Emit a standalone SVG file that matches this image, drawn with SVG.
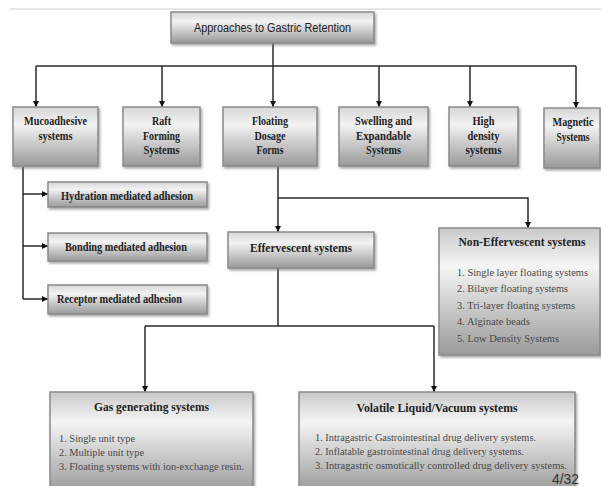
<svg xmlns="http://www.w3.org/2000/svg" width="601" height="486" viewBox="0 0 601 486">
<style>
.box{fill:url(#g);stroke:#8a8a8a;stroke-width:1.5;filter:url(#sh)}
.big{fill:url(#g2);stroke:#8a8a8a;stroke-width:1.5;filter:url(#sh)}
.t{font-family:"Liberation Serif","Times New Roman",serif;font-weight:bold;font-size:12.5px;fill:#222;text-anchor:middle}
.h{font-family:"Liberation Serif","Times New Roman",serif;font-weight:bold;font-size:13px;fill:#222;text-anchor:middle}
.i{font-family:"Liberation Serif","Times New Roman",serif;font-size:11px;fill:#4a4a4a}
.c{fill:none;stroke:#2a2a2a;stroke-width:1.5}
</style>
<defs>
<linearGradient id="g" x1="0" y1="0" x2="0" y2="1">
<stop offset="0" stop-color="#d6d6d6"/><stop offset="0.3" stop-color="#f3f3f3"/><stop offset="1" stop-color="#999"/>
</linearGradient>
<linearGradient id="g2" x1="0" y1="0" x2="0" y2="1">
<stop offset="0" stop-color="#c9c9c9"/><stop offset="0.3" stop-color="#f5f5f5"/><stop offset="1" stop-color="#9a9a9a"/>
</linearGradient>
<filter id="sh" x="-10%" y="-10%" width="130%" height="130%">
<feDropShadow dx="1.5" dy="2" stdDeviation="1.2" flood-color="#777" flood-opacity="0.6"/>
</filter>
<marker id="a" viewBox="0 0 10 10" refX="10" refY="5" markerWidth="6" markerHeight="6" orient="auto" markerUnits="userSpaceOnUse">
<path d="M0,0 L10,5 L0,10 z" fill="#111"/>
</marker>
</defs>
<rect width="601" height="486" fill="#fff"/>
<line x1="10" y1="9" x2="601" y2="9" stroke="#cfcfcf" stroke-width="1"/>

<g id="connectors">
<path class="c" d="M273,43 V66"/>
<path class="c" d="M36,66 H576"/>
<path class="c" d="M36,66 V107" marker-end="url(#a)"/>
<path class="c" d="M162,66 V107" marker-end="url(#a)"/>
<path class="c" d="M273,66 V107" marker-end="url(#a)"/>
<path class="c" d="M379,66 V107" marker-end="url(#a)"/>
<path class="c" d="M470,66 V107" marker-end="url(#a)"/>
<path class="c" d="M576,66 V108" marker-end="url(#a)"/>
<path class="c" d="M23,167 V299"/>
<path class="c" d="M23,194 H48" marker-end="url(#a)"/>
<path class="c" d="M23,246 H48" marker-end="url(#a)"/>
<path class="c" d="M23,299 H48" marker-end="url(#a)"/>
<path class="c" d="M278,166 V232" marker-end="url(#a)"/>
<path class="c" d="M278,198 H528 V228" marker-end="url(#a)"/>
<path class="c" d="M278,268 V326"/>
<path class="c" d="M145,326 H434"/>
<path class="c" d="M145,326 V392" marker-end="url(#a)"/>
<path class="c" d="M434,326 V392" marker-end="url(#a)"/>
</g>

<g id="root">
<rect class="box" x="171" y="12" width="203" height="31"/>
<text x="272.5" y="32" style="font-family:'Liberation Sans',Arial,sans-serif;font-size:12.5px;fill:#222;text-anchor:middle" textLength="157" lengthAdjust="spacingAndGlyphs">Approaches to Gastric Retention</text>
</g>

<g id="mucoadhesive">
<rect class="box" x="13" y="107" width="85" height="59"/>
<text class="t" x="55.5" y="125" textLength="63" lengthAdjust="spacingAndGlyphs">Mucoadhesive</text>
<text class="t" x="55.5" y="140" textLength="34" lengthAdjust="spacingAndGlyphs">systems</text>
</g>
<g id="raft">
<rect class="box" x="123" y="107" width="77" height="59"/>
<text class="t" x="161.5" y="125" textLength="19" lengthAdjust="spacingAndGlyphs">Raft</text>
<text class="t" x="161.5" y="140" textLength="37" lengthAdjust="spacingAndGlyphs">Forming</text>
<text class="t" x="161.5" y="154" textLength="36" lengthAdjust="spacingAndGlyphs">Systems</text>
</g>
<g id="floating">
<rect class="box" x="223" y="107" width="94" height="59"/>
<text class="t" x="270" y="125" textLength="36" lengthAdjust="spacingAndGlyphs">Floating</text>
<text class="t" x="270" y="140" textLength="31" lengthAdjust="spacingAndGlyphs">Dosage</text>
<text class="t" x="270" y="154" textLength="27" lengthAdjust="spacingAndGlyphs">Forms</text>
</g>
<g id="swelling">
<rect class="box" x="339" y="107" width="89" height="59"/>
<text class="t" x="383.5" y="125" textLength="57" lengthAdjust="spacingAndGlyphs">Swelling and</text>
<text class="t" x="383.5" y="140" textLength="55" lengthAdjust="spacingAndGlyphs">Expandable</text>
<text class="t" x="383.5" y="154" textLength="35" lengthAdjust="spacingAndGlyphs">Systems</text>
</g>
<g id="highdensity">
<rect class="box" x="449" y="107" width="69" height="59"/>
<text class="t" x="483.5" y="125" textLength="22" lengthAdjust="spacingAndGlyphs">High</text>
<text class="t" x="483.5" y="140" textLength="32" lengthAdjust="spacingAndGlyphs">density</text>
<text class="t" x="483.5" y="154" textLength="36" lengthAdjust="spacingAndGlyphs">systems</text>
</g>
<g id="magnetic">
<rect class="box" x="544" y="108" width="56" height="60"/>
<text class="t" x="573" y="126" textLength="41" lengthAdjust="spacingAndGlyphs">Magnetic</text>
<text class="t" x="573" y="141" textLength="33" lengthAdjust="spacingAndGlyphs">Systems</text>
</g>

<g id="hydration">
<rect class="box" x="48" y="182" width="159" height="25"/>
<text class="t" x="127" y="200" textLength="132" lengthAdjust="spacingAndGlyphs">Hydration mediated adhesion</text>
</g>
<g id="bonding">
<rect class="box" x="48" y="233" width="159" height="28"/>
<text class="t" x="126" y="251" textLength="122" lengthAdjust="spacingAndGlyphs">Bonding mediated adhesion</text>
</g>
<g id="receptor">
<rect class="box" x="48" y="285" width="159" height="29"/>
<text class="t" x="119.5" y="303" textLength="125" lengthAdjust="spacingAndGlyphs">Receptor mediated adhesion</text>
</g>

<g id="effervescent">
<rect class="box" x="228" y="232" width="146" height="36"/>
<text class="h" x="301" y="252" textLength="102" lengthAdjust="spacingAndGlyphs">Effervescent systems</text>
</g>

<g id="noneffervescent">
<rect class="big" x="439" y="228" width="161" height="127"/>
<text class="h" x="522" y="246" textLength="127" lengthAdjust="spacingAndGlyphs">Non-Effervescent systems</text>
<text class="i" x="457" y="276" textLength="131" lengthAdjust="spacingAndGlyphs">1. Single layer floating systems</text>
<text class="i" x="457" y="292" textLength="111" lengthAdjust="spacingAndGlyphs">2. Bilayer floating systems</text>
<text class="i" x="457" y="309" textLength="118" lengthAdjust="spacingAndGlyphs">3. Tri-layer floating systems</text>
<text class="i" x="457" y="325" textLength="73" lengthAdjust="spacingAndGlyphs">4. Alginate beads</text>
<text class="i" x="457" y="342" textLength="102" lengthAdjust="spacingAndGlyphs">5. Low Density Systems</text>
</g>

<g id="gasgenerating">
<rect class="big" x="50" y="392" width="203" height="100"/>
<text class="h" x="151.5" y="411" textLength="115" lengthAdjust="spacingAndGlyphs">Gas generating systems</text>
<text class="i" x="59" y="442" textLength="76" lengthAdjust="spacingAndGlyphs">1. Single unit type</text>
<text class="i" x="59" y="456" textLength="85" lengthAdjust="spacingAndGlyphs">2. Multiple unit type</text>
<text class="i" x="59" y="470" textLength="185" lengthAdjust="spacingAndGlyphs">3. Floating systems with ion-exchange resin.</text>
</g>

<g id="volatile">
<rect class="big" x="299" y="392" width="276" height="100"/>
<text class="h" x="437" y="412" textLength="161" lengthAdjust="spacingAndGlyphs">Volatile Liquid/Vacuum systems</text>
<text class="i" x="315" y="441" textLength="221" lengthAdjust="spacingAndGlyphs">1. Intragastric Gastrointestinal drug delivery systems.</text>
<text class="i" x="315" y="455" textLength="209" lengthAdjust="spacingAndGlyphs">2. Inflatable gastrointestinal drug delivery systems.</text>
<text class="i" x="315" y="469" style="font-size:10.5px" textLength="252" lengthAdjust="spacingAndGlyphs">3. Intragastric osmotically controlled drug delivery systems.</text>
</g>

<text x="552" y="484" style="font-family:'Liberation Sans',Arial,sans-serif;font-size:14px;fill:#333" textLength="27" lengthAdjust="spacingAndGlyphs">4/32</text>
</svg>
